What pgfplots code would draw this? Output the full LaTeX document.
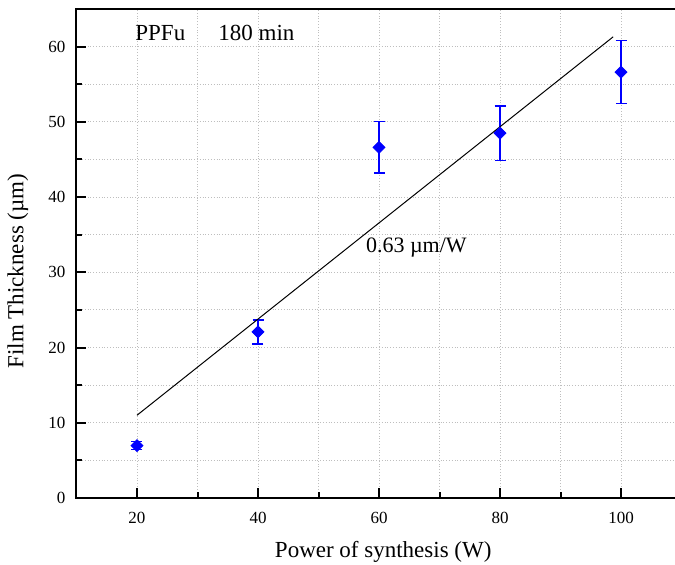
\documentclass[border=0pt]{standalone}
\usepackage{fontspec}
\setmainfont{Liberation Serif}
\usepackage{pgfplots}
\pgfplotsset{compat=1.18}
\definecolor{gridgray}{RGB}{190,190,190}
\begin{document}
\begin{tikzpicture}
\begin{axis}[
  at={(0,0)}, anchor=south west,
  scale only axis,
  width=302.5pt, height=244.5pt,
  xmin=10, xmax=110, ymin=0, ymax=65,
  xtick={20,40,60,80,100}, ytick={0,10,20,30,40,50,60},
  xticklabels={20,40,60,80,100},
  yticklabels={0,10,20,30,40,50,60},
  minor x tick num=1, minor y tick num=1,
  tick pos=left,
  tick align=inside,
  major tick length=5pt, minor tick length=3pt,
  every tick/.style={black, line width=1pt},
  axis line style={line width=1pt},
  grid=both,
  major grid style={gridgray, densely dotted, line width=0.5pt},
  minor grid style={gridgray, densely dotted, line width=0.5pt},
  ticklabel style={font=\fontsize{8.5}{10}\selectfont},
  yticklabel style={xshift=-2pt},
  xticklabel style={yshift=-3.5pt},
  clip=false,
]
\addplot[blue, mark=square*, only marks, mark size=2.1pt,
  mark options={rotate=45, blue},
  error bars/.cd, y dir=both, y explicit,
  error bar style={blue, line width=0.6pt},
  error mark options={rotate=90, blue, mark size=2.75pt, line width=0.6pt}]
  coordinates {
  (20,6.96) +- (0,0.5)
  (40,22.07) +- (0,1.6)
  (60,46.6) +- (0,3.4)
  (80,48.5) +- (0,3.6)
  (100,56.6) +- (0,4.2)
};
\addplot[black, line width=0.5pt] coordinates {(20,11.0) (98.7,61.3)};
\node[anchor=base west, inner sep=0pt, font=\fontsize{11.5}{13}\selectfont] at (axis cs:19.67,60.77) {PPFu};
\node[anchor=base west, inner sep=0pt, font=\fontsize{11.5}{13}\selectfont] at (axis cs:33.4,60.77) {180 min};
\node[anchor=base west, inner sep=0pt, font=\fontsize{11}{13}\selectfont] at (axis cs:57.8,32.6) {0.63 µm/W};
\node[font=\fontsize{11.5}{13}\selectfont] at (rel axis cs:0.507,-0.11) {Power of synthesis (W)};
\node[rotate=90, font=\fontsize{11.5}{13}\selectfont] at (rel axis cs:-0.097,0.464) {Film Thickness (µm)};
\end{axis}
\pgfresetboundingbox
\path[use as bounding box] (-38.25pt,-33pt) rectangle (299.25pt,249pt);
\end{tikzpicture}
\end{document}
